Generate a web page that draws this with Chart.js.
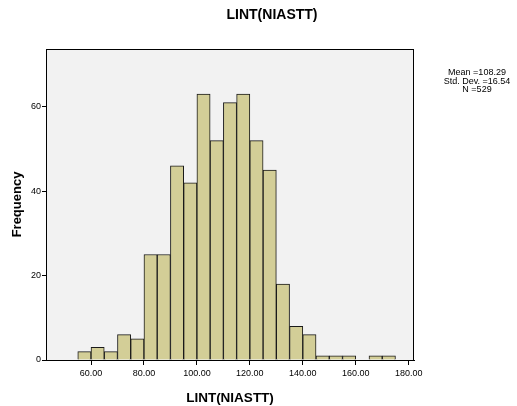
<!DOCTYPE html>
<html>
<head>
<meta charset="utf-8">
<script src="https://cdn.jsdelivr.net/npm/chart.js@4"></script>
<style>
  html, body { margin: 0; padding: 0; background: #fff; }
  #wrap { width: 517px; height: 406px; }
</style>
</head>
<body>
<div id="wrap"><canvas id="hist" width="517" height="406"></canvas></div>
<script>
// bin centres (width 5) and counts
const binCenters = [57.5, 62.5, 67.5, 72.5, 77.5, 82.5, 87.5, 92.5, 97.5, 102.5, 107.5, 112.5,
                    117.5, 122.5, 127.5, 132.5, 137.5, 142.5, 147.5, 152.5, 157.5, 162.5, 167.5, 172.5];
const counts = [2, 3, 2, 6, 5, 25, 25, 46, 42, 63, 52, 61, 63, 52, 45, 18, 8, 6, 1, 1, 1, 0, 1, 1];
const xTicks = [60, 80, 100, 120, 140, 160, 180];
const yTicks = [0, 20, 40, 60];
const statsLines = ['Mean =108.29', 'Std. Dev. =16.54', 'N =529'];
const titleText = 'LINT(NIASTT)';

const FONT = 'Arial, "Liberation Sans", sans-serif';

const frame = {
  id: 'frame',
  beforeDraw(chart) {
    const { ctx, chartArea: a } = chart;
    ctx.save();
    ctx.fillStyle = '#f2f2f2';
    ctx.fillRect(a.left, a.top, a.right - a.left, a.bottom - a.top);
    ctx.restore();
  },
  afterDraw(chart) {
    const { ctx, chartArea: a } = chart;
    ctx.save();
    ctx.strokeStyle = '#000';
    ctx.lineWidth = 1;
    ctx.strokeRect(a.left + 0.5, a.top + 0.5, a.right - a.left - 1, a.bottom - a.top);
    // title
    ctx.fillStyle = '#000';
    ctx.textAlign = 'center';
    ctx.textBaseline = 'middle';
    ctx.font = 'bold 14px ' + FONT;
    ctx.fillText(titleText, 272, 15);
    // stats box
    ctx.font = '9px ' + FONT;
    statsLines.forEach((s, i) => ctx.fillText(s, 477, 73 + i * 8.5));
    ctx.restore();
  }
};

new Chart(document.getElementById('hist').getContext('2d'), {
  type: 'bar',
  data: {
    datasets: [{
      data: binCenters.map((x, i) => ({ x, y: counts[i] })),
      backgroundColor: '#d3ce97',
      borderColor: '#1a1a1a',
      borderWidth: 1,
      barPercentage: 1,
      categoryPercentage: 1
    }]
  },
  options: {
    responsive: false,
    animation: false,
    layout: { padding: { top: 49, right: 103, left: 0, bottom: 0 } },
    plugins: { legend: { display: false }, tooltip: { enabled: false } },
    scales: {
      x: {
        type: 'linear',
        min: 43,
        max: 182,
        offset: false,
        afterBuildTicks: s => { s.ticks = xTicks.map(v => ({ value: v })); },
        afterFit: s => { s.height = 46; },
        grid: { offset: false, drawOnChartArea: false, drawTicks: true, tickLength: 5, color: '#000' },
        border: { color: '#000' },
        ticks: {
          color: '#000',
          font: { family: FONT, size: 9 },
          padding: 3,
          maxRotation: 0,
          callback: v => Number(v).toFixed(2)
        },
        title: { display: true, text: 'LINT(NIASTT)', color: '#000', font: { family: FONT, size: 13.5, weight: 'bold' }, padding: { top: 3, bottom: 0 } }
      },
      y: {
        min: 0,
        max: 73.7,
        afterBuildTicks: s => { s.ticks = yTicks.map(v => ({ value: v })); },
        afterFit: s => { s.width = 46; },
        grid: { drawOnChartArea: false, drawTicks: true, tickLength: 4, color: '#000' },
        border: { color: '#000' },
        ticks: { color: '#000', font: { family: FONT, size: 9 }, padding: 1 },
        title: { display: true, text: 'Frequency', color: '#000', font: { family: FONT, size: 13, weight: 'bold' }, padding: { top: 10, bottom: 2 } }
      }
    }
  },
  plugins: [frame]
});
</script>
</body>
</html>
